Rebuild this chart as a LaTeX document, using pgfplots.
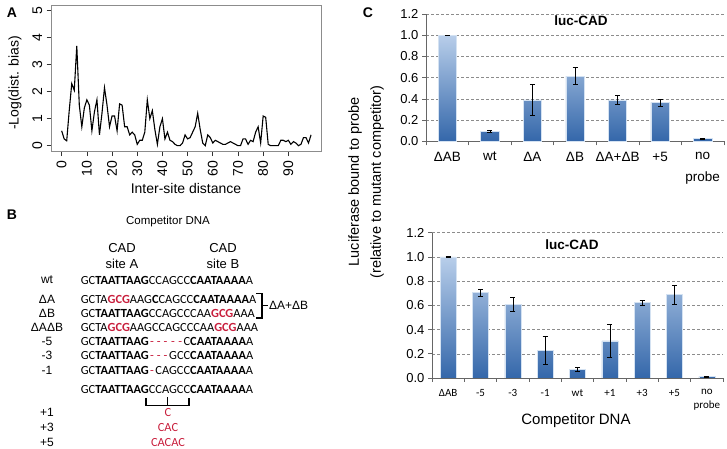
\documentclass[border=0pt]{standalone}
\usepackage{graphicx}
\usepackage{pgfplots}
\pgfplotsset{compat=1.18}
\usepackage{fontspec}
\setmainfont{Liberation Sans}
\newfontfamily\calibri{Carlito}
\definecolor{barTop}{RGB}{184,206,234}
\definecolor{barBot}{RGB}{52,103,170}
\definecolor{seqred}{RGB}{200,30,60}
\newcommand\fs[1]{\fontsize{#1}{#1}\selectfont}
\newcommand\B[1]{\textbf{#1}}
\newcommand\R[1]{\textcolor{seqred}{\textbf{#1}}}
\newcommand\gap[1]{\setbox0\hbox{#1}\hbox to \wd0{\hss\textcolor{seqred}{-}\hss}}
\pgfplotsset{
  errplot/.style={draw=none, mark=none, forget plot,
    error bars/.cd, y dir=both, y explicit,
    error bar style={draw=black, line width=0.6pt},
    error mark=-,
    error mark options={draw=black, line width=0.6pt, mark size=2.5pt, rotate=90}},
}
\begin{document}
\begin{tikzpicture}
\path[use as bounding box] (0,0) rectangle (727pt,449pt);

% ---------------- Panel A
\begin{axis}[at={(51.7pt,443.7pt)}, anchor=north west, scale only axis,
 width=269.3pt, height=145.8pt,
 xmin=-3.96, xmax=102.96, ymin=-0.2, ymax=5.2,
 axis line style={black!45, line width=0.7pt},
 xtick={0,10,...,90}, ytick={0,1,...,5},
 tick pos=left, tick align=outside, major tick length=5pt,
 tick style={black!80, line width=0.7pt},
 xticklabel={\rotatebox{90}{\pgfmathprintnumber[assume math mode=true]{\tick}}},
 yticklabel={\rotatebox{90}{\pgfmathprintnumber[assume math mode=true]{\tick}}},
 tick label style={font=\fs{14}},
 x tick label style={anchor=north, yshift=-1pt},
 y tick label style={anchor=east, xshift=-1pt},
]
\addplot[black, line width=1.1pt] coordinates {
(0,0.55) (1,0.25) (2,0.18) (3,1.3) (4,2.3) (5,2.05) (6,3.7) (7,1.5) (8,0.7) (9,1.4)
(10,1.7) (11,1.5) (12,0.55) (13,1.25) (14,1.7) (15,0.4) (16,1.2) (17,2.15) (18,1.5) (19,0.7)
(20,1.1) (21,1.1) (22,0.55) (23,1.55) (24,1.5) (25,0.7) (26,0.7) (27,0.4) (28,0.5) (29,0.4)
(30,0.05) (31,0.2) (32,0.2) (33,0.5) (34,1.7) (35,1.0) (36,1.3) (37,0.6) (38,0.05) (39,0.7)
(40,1.0) (41,0.25) (42,0.5) (43,0.2) (44,0.15) (45,0.05) (46,0.0) (47,0.0) (48,0.1) (49,0.4)
(50,0.25) (51,0.3) (52,0.5) (53,0.7) (54,1.2) (55,0.6) (56,0.1) (57,0.0) (58,0.4) (59,0.3)
(60,0.1) (61,0.2) (62,0.15) (63,0.1) (64,0.05) (65,0.05) (66,0.1) (67,0.15) (68,0.1) (69,0.05)
(70,0.0) (71,0.0) (72,0.25) (73,0.25) (74,0.05) (75,0.2) (76,0.15) (77,0.5) (78,0.7) (79,0.1)
(80,1.1) (81,1.05) (82,0.05) (83,0.0) (84,0.0) (85,0.0) (86,0.0) (87,0.2) (88,0.2) (89,0.15)
(90,0.2) (91,0.05) (92,0.15) (93,0.1) (94,0.0) (95,0.05) (96,0.3) (97,0.3) (98,0.1) (99,0.4)
};
\end{axis}

% ---------------- Panel C top
\begin{axis}[at={(426pt,435pt)}, anchor=north west, scale only axis,
 width=298pt, height=127.3pt,
 xmin=-0.5, xmax=6.5, ymin=0, ymax=1.2,
 axis x line*=bottom, axis y line*=left,
 axis line style={black!60, line width=0.7pt},
 ytick={0,0.2,0.4,0.6,0.8,1.0,1.2},
 xtick={0,...,6},
 xticklabels={ΔAB, wt, ΔA, ΔB, ΔA+ΔB, +5, {no\\probe}},
 minor xtick={-0.5,0.5,...,6.5},
 major x tick style={draw=none},
 minor x tick style={draw=black!60, line width=0.6pt},
 ytick style={draw=black!60, line width=0.6pt},
 tick align=outside, major tick length=4pt, minor tick length=4pt,
 ymajorgrids, grid style={densely dashed, black!45, line width=0.5pt},
 /pgf/number format/assume math mode=true,
 y tick label style={font=\fs{13}, /pgf/number format/fixed, /pgf/number format/fixed zerofill, /pgf/number format/precision=1},
 x tick label style={font=\fontsize{13.5}{22}\selectfont, align=center, yshift=-3pt},
]
\addplot[ybar, bar width=18.3pt, bar shift=0pt, top color=barTop, bottom color=barBot, draw=barTop!60!white, line width=0.5pt]
 coordinates {(0,1.0) (1,0.095) (2,0.39) (3,0.615) (4,0.39) (5,0.367) (6,0.025)};
\addplot[errplot]
 coordinates {(0,1.0) +- (0,0.003) (1,0.095) +- (0,0.012) (2,0.39) +- (0,0.145) (3,0.615) +- (0,0.079)
 (4,0.39) +- (0,0.044) (5,0.367) +- (0,0.033) (6,0.025) +- (0,0.006)};
\end{axis}

% ---------------- Panel C bottom
\begin{axis}[at={(432pt,216.3pt)}, anchor=north west, scale only axis,
 width=291pt, height=145.3pt,
 xmin=-0.5, xmax=8.5, ymin=0, ymax=1.2,
 axis x line*=bottom, axis y line*=left,
 axis line style={black!60, line width=0.7pt},
 ytick={0,0.2,0.4,0.6,0.8,1.0,1.2},
 xtick={0,...,8},
 xticklabels={ΔAB, -5, -3, -1, wt, +1, +3, +5, {no\\probe}},
 minor xtick={-0.5,0.5,...,8.5},
 major x tick style={draw=none},
 minor x tick style={draw=black!60, line width=0.6pt},
 ytick style={draw=black!60, line width=0.6pt},
 tick align=outside, major tick length=4pt, minor tick length=4pt,
 ymajorgrids, grid style={densely dashed, black!45, line width=0.5pt},
 /pgf/number format/assume math mode=true,
 y tick label style={font=\fs{13}, /pgf/number format/fixed, /pgf/number format/fixed zerofill, /pgf/number format/precision=1},
 x tick label style={font=\calibri\fontsize{11}{13.4}\selectfont, align=center, yshift=-4pt},
]
\addplot[ybar, bar width=16pt, bar shift=0pt, top color=barTop, bottom color=barBot, draw=barTop!60!white, line width=0.5pt]
 coordinates {(0,1.0) (1,0.705) (2,0.608) (3,0.23) (4,0.072) (5,0.306) (6,0.622) (7,0.688) (8,0.011)};
\addplot[errplot]
 coordinates {(0,1.0) +- (0,0.003) (1,0.705) +- (0,0.028) (2,0.608) +- (0,0.06) (3,0.23) +- (0,0.115)
 (4,0.072) +- (0,0.014) (5,0.306) +- (0,0.137) (6,0.622) +- (0,0.022) (7,0.688) +- (0,0.076) (8,0.011) +- (0,0.003)};
\end{axis}

\begin{scope}[x=1pt, y=-1pt, shift={(0pt,449pt)}]
% panel letters
\node[font=\fs{14}\bfseries] at (12,13) {A};
\node[font=\fs{14}\bfseries] at (12,215) {B};
\node[font=\fs{14}\bfseries] at (368,13) {C};
% panel A labels
\node[font=\fs{14}, rotate=90] at (15,83) {-Log(dist. bias)};
\node[font=\fs{14}] at (186,189) {Inter-site distance};
% panel C labels
\node[font=\fs{13.5}\bfseries] at (581,21) {luc-CAD};
\node[font=\fs{13.5}\bfseries] at (572,245) {luc-CAD};
\node[font=\fs{14.5}, rotate=90] at (355,182) {Luciferase bound to probe};
\node[font=\fs{14.5}, rotate=90] at (377,182) {(relative to mutant competitor)};
\node[font=\fs{15}] at (576,421) {Competitor DNA};
% panel B
\node[font=\fs{11.5}] at (168,222) {Competitor DNA};
\node[font=\fs{13}] at (122,248) {CAD};
\node[font=\fs{13}] at (122,264) {site A};
\node[font=\fs{13}] at (223,248) {CAD};
\node[font=\fs{13}] at (223,264) {site B};
\foreach \lab/\yy in {wt/280, ΔA/299, ΔB/313.3, ΔAΔB/327.3, -5/341.7, -3/355.7, -1/370.7, +1/412.3, +3/427.7, +5/442.7}
  \node[font=\fs{12}] at (47,\yy) {\lab};
\node[font=\calibri\fs{12.4}, anchor=west, inner xsep=0pt] at (80.7,280) {GC\B{TAATTAAG}CCAGCC\B{CAATAAAA}A};
\node[font=\calibri\fs{12.4}, anchor=west, inner xsep=0pt] at (80.7,299) {GCTA\R{GCG}AAG\B{C}CAGCC\B{CAATAAAA}A};
\node[font=\calibri\fs{12.4}, anchor=west, inner xsep=0pt] at (80.7,313.3) {GC\B{TAATTAAG}CCAGCCCAA\R{GCG}AAA};
\node[font=\calibri\fs{12.4}, anchor=west, inner xsep=0pt] at (80.7,327.3) {GCTA\R{GCG}AAGCCAGCCCAA\R{GCG}AAA};
\node[font=\calibri\fs{12.4}, anchor=west, inner xsep=0pt] at (80.7,341.7) {GC\B{TAATTAAG}\gap{C}\gap{C}\gap{A}\gap{G}\gap{C}C\B{CAATAAAA}A};
\node[font=\calibri\fs{12.4}, anchor=west, inner xsep=0pt] at (80.7,355.7) {GC\B{TAATTAAG}\gap{C}\gap{C}\gap{A}GCC\B{CAATAAAA}A};
\node[font=\calibri\fs{12.4}, anchor=west, inner xsep=0pt] at (80.7,370.7) {GC\B{TAATTAAG}\gap{C}CAGCC\B{CAATAAAA}A};
\node[font=\calibri\fs{12.4}, anchor=west, inner xsep=0pt] at (80.7,389.3) {GC\B{TAATTAAG}CCAGCC\B{CAATAAAA}A};
\node[font=\calibri\fs{12.4}, text=seqred] at (168,412.3) {C};
\node[font=\calibri\fs{12.4}, text=seqred] at (168,427.7) {CAC};
\node[font=\calibri\fs{12.4}, text=seqred] at (168,442.7) {CACAC};
% brackets
\draw[line width=1.4pt] (256,293.5) -- (262,293.5) -- (262,318) -- (256,318);
\draw[line width=1.4pt] (262,305.5) -- (268,305.5);
\node[font=\fs{12}, anchor=west, inner xsep=0pt] at (269,305) {ΔA+ΔB};
\draw[line width=1.4pt] (146,398) -- (146,405.5) -- (189,405.5) -- (189,398);
\draw[line width=1.4pt] (167.5,405.5) -- (167.5,397);
\end{scope}
\end{tikzpicture}
\end{document}
